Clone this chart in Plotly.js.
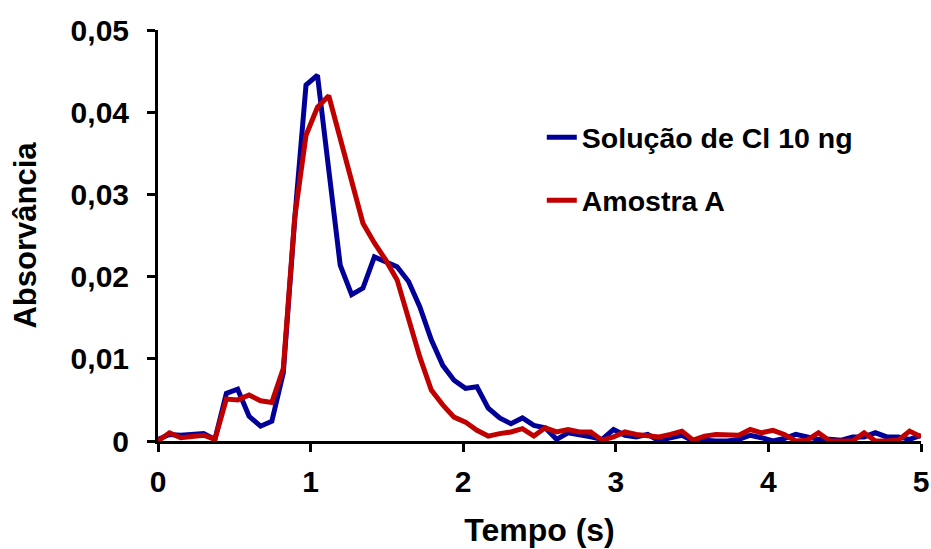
<!DOCTYPE html>
<html>
<head>
<meta charset="utf-8">
<script src="https://cdn.plot.ly/plotly-3.0.1.min.js"></script>
<style>html,body{margin:0;padding:0;background:#fff;}#chart{width:931px;height:549px;}</style>
</head>
<body>
<div id="chart"></div>
<script>
// Time (s)
var tempo = [0, 0.075, 0.149, 0.224, 0.299, 0.373, 0.448, 0.522, 0.597, 0.672,
  0.746, 0.821, 0.896, 0.970, 1.045, 1.119, 1.194, 1.269, 1.343, 1.418,
  1.493, 1.567, 1.642, 1.716, 1.791, 1.866, 1.940, 2.015, 2.090, 2.164,
  2.239, 2.313, 2.388, 2.463, 2.537, 2.612, 2.687, 2.761, 2.836, 2.910,
  2.985, 3.060, 3.134, 3.209, 3.284, 3.358, 3.433, 3.507, 3.582, 3.657,
  3.731, 3.806, 3.881, 3.955, 4.030, 4.104, 4.179, 4.254, 4.328, 4.403,
  4.478, 4.552, 4.627, 4.701, 4.776, 4.851, 4.925, 5.000];

// Solução de Cl 10 ng
var solucao = [0.0002, 0.0008, 0.0007, 0.0008, 0.0009, 0.0002, 0.0058, 0.0063, 0.0030, 0.0018,
  0.0024, 0.0083, 0.0270, 0.0433, 0.0445, 0.0330, 0.0214, 0.0178, 0.0186, 0.0224,
  0.0218, 0.0212, 0.0194, 0.0163, 0.0123, 0.0092, 0.0074, 0.0064, 0.0066, 0.0040,
  0.0028, 0.0021, 0.0028, 0.0019, 0.0016, 0.0002, 0.0010, 0.0008, 0.0005, 0.0002,
  0.0014, 0.0007, 0.0005, 0.0008, 0.0000, 0.0004, 0.0007, 0.0000, 0.0001, 0.0000,
  0.0000, 0.0002, 0.0007, 0.0004, 0.0000, 0.0003, 0.0008, 0.0005, 0.0002, 0.0002,
  0.0001, 0.0005, 0.0005, 0.0010, 0.0005, 0.0005, 0.0002, 0.0007];

// Amostra A
var amostra = [0.0000, 0.0010, 0.0004, 0.0006, 0.0007, 0.0002, 0.0051, 0.0050, 0.0056, 0.0049,
  0.0047, 0.0088, 0.0272, 0.0372, 0.0406, 0.0420, 0.0368, 0.0317, 0.0265, 0.0241,
  0.0220, 0.0196, 0.0147, 0.0102, 0.0062, 0.0044, 0.0029, 0.0023, 0.0013, 0.0006,
  0.0009, 0.0011, 0.0015, 0.0006, 0.0016, 0.0011, 0.0014, 0.0011, 0.0011, 0.0001,
  0.0005, 0.0011, 0.0008, 0.0007, 0.0005, 0.0008, 0.0012, 0.0001, 0.0006, 0.0008,
  0.0007, 0.0007, 0.0014, 0.0010, 0.0013, 0.0008, 0.0000, 0.0001, 0.0010, 0.0000,
  0.0000, 0.0000, 0.0010, 0.0000, 0.0000, 0.0001, 0.0012, 0.0005];

var seriesNames = ['Solução de Cl 10 ng', 'Amostra A'];
var xTickVals = [0, 1, 2, 3, 4, 5];
var xTickText = ['0', '1', '2', '3', '4', '5'];
var yTickVals = [0, 0.01, 0.02, 0.03, 0.04, 0.05];
var yTickText = ['0', '0,01', '0,02', '0,03', '0,04', '0,05'];

var FONT = 'Liberation Sans, Arial, sans-serif';

var traces = [
  {x: tempo, y: solucao, name: seriesNames[0], type: 'scatter', mode: 'lines',
   legendgroup: 'a', line: {color: '#000099', width: 5}},
  {x: tempo, y: amostra, name: seriesNames[1], type: 'scatter', mode: 'lines',
   legendgroup: 'b', line: {color: '#C00000', width: 5}}
];

var layout = {
  width: 931, height: 549,
  margin: {l: 158, r: 10, t: 30, b: 108},
  paper_bgcolor: '#fff', plot_bgcolor: '#fff',
  font: {family: FONT, color: '#000', size: 28, weight: 'bold'},
  showlegend: true,
  legend: {x: 0.503, y: 0.80, xanchor: 'left', yanchor: 'top',
    font: {family: FONT, size: 28.5, color: '#000', weight: 'bold'},
    bgcolor: 'rgba(0,0,0,0)', traceorder: 'grouped', tracegroupgap: 23},
  xaxis: {
    range: [0, 5], tickvals: xTickVals, ticktext: xTickText,
    showgrid: false, zeroline: false, showline: true, linecolor: '#000', linewidth: 3,
    ticks: 'outside', ticklen: 8, tickwidth: 3, tickcolor: '#000',
    tickfont: {family: FONT, size: 30, color: '#000', weight: 'bold'},
    ticklabelstandoff: 4,
    title: {text: 'Tempo (s)', font: {family: FONT, size: 32, color: '#000', weight: 'bold'}, standoff: 22}
  },
  yaxis: {
    range: [0, 0.05], tickvals: yTickVals, ticktext: yTickText,
    showgrid: false, zeroline: false, showline: true, linecolor: '#000', linewidth: 3,
    ticks: 'outside', ticklen: 8, tickwidth: 3, tickcolor: '#000',
    tickfont: {family: FONT, size: 30, color: '#000', weight: 'bold'},
    ticklabelstandoff: 12,
    title: {text: 'Absorvância', font: {family: FONT, size: 31, color: '#000', weight: 'bold'}, standoff: 25}
  }
};

Plotly.newPlot('chart', traces, layout, {displayModeBar: false, staticPlot: true});
</script>
</body>
</html>
